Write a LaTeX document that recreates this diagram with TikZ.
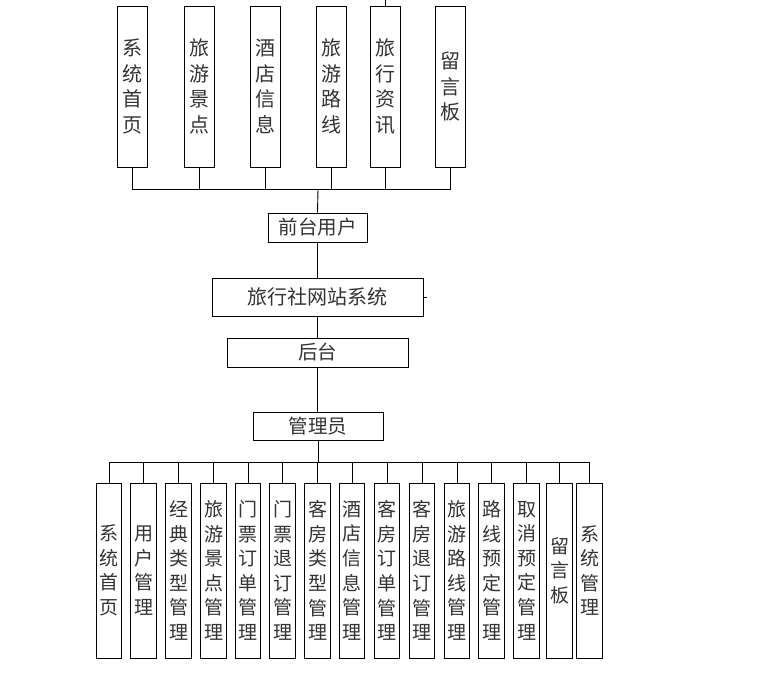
\documentclass[tikz,border=0pt]{standalone}
\usepackage{fontspec}
\setmainfont{Noto Sans CJK SC}
\usepackage{tikz}
\usetikzlibrary{positioning}

\begin{document}
\begin{tikzpicture}[
    x=1pt, y=-1pt,
    box/.style={rectangle, draw, line width=0.9pt, inner sep=0pt, text=black!80, align=center},
    bar/.style={box, minimum height=29pt, font=\fontsize{19.5}{22}\selectfont},
    menu/.style={box, minimum width=30pt, minimum height=161pt, font=\fontsize{20}{25.7}\selectfont},
    func/.style={box, minimum width=25.5pt, minimum height=175pt, font=\fontsize{19}{24.6}\selectfont},
    link/.style={draw, line width=0.9pt}
]
    \useasboundingbox (0,0) rectangle (765,673);

    % front side menus
    \node[menu] (home)   at (132,86.5) {系\\统\\首\\页};
    \node[menu] (scenic) at (199,86.5) {旅\\游\\景\\点};
    \node[menu] (hotel)  at (265,86.5) {酒\\店\\信\\息};
    \node[menu] (route)  at (331,86.5) {旅\\游\\路\\线};
    \node[menu] (news)   at (385,86.5) {旅\\行\\资\\讯};
    \node[menu] (board)  at (450,86.5) {留\\言\\板};

    % middle column
    \node[bar, minimum width=99pt] (front) at (317.5,227.5) {前台用户};
    \node[bar, minimum width=211pt, minimum height=38pt, font=\fontsize{20}{22}\selectfont] (system) at (317.5,297) {旅行社网站系统};
    \node[bar, minimum width=181pt] (back) at (317.5,352.5) {后台};
    \node[bar, minimum width=130pt, minimum height=28pt] (admin) at (318,426) {管理员};

    % admin functions
    \node[func] (f1)  at (109,570.5)   {系\\统\\首\\页};
    \node[func] (f2)  at (143.5,570.5) {用\\户\\管\\理};
    \node[func] (f3)  at (178.5,570.5) {经\\典\\类\\型\\管\\理};
    \node[func] (f4)  at (213.5,570.5) {旅\\游\\景\\点\\管\\理};
    \node[func] (f5)  at (248,570.5)   {门\\票\\订\\单\\管\\理};
    \node[func] (f6)  at (282.5,570.5) {门\\票\\退\\订\\管\\理};
    \node[func] (f7)  at (317.5,570.5) {客\\房\\类\\型\\管\\理};
    \node[func] (f8)  at (352,570.5)   {酒\\店\\信\\息\\管\\理};
    \node[func] (f9)  at (387,570.5)   {客\\房\\订\\单\\管\\理};
    \node[func] (f10) at (422,570.5)   {客\\房\\退\\订\\管\\理};
    \node[func] (f11) at (457,570.5)   {旅\\游\\路\\线\\管\\理};
    \node[func] (f12) at (491.5,570.5) {路\\线\\预\\定\\管\\理};
    \node[func] (f13) at (526.5,570.5) {取\\消\\预\\定\\管\\理};
    \node[func] (f14) at (559.5,570.5) {留\\言\\板};
    \node[func] (f15) at (589.5,570.5) {系\\统\\管\\理};

    \coordinate (topbus) at (318,189);
    \coordinate (botbus) at (318,462);
    \coordinate (topend) at (385,0);
    \coordinate (sysend) at (427,297);

    \draw[link] (home.south) |- (topbus);
    \draw[link] (scenic.south) |- (topbus);
    \draw[link] (hotel.south) |- (topbus);
    \draw[link] (route.south) |- (topbus);
    \draw[link] (news.south) |- (topbus);
    \draw[link] (board.south) |- (topbus);
    \draw[link] (news.north) -- (topend);

    \draw[link] (topbus) -- (front.north);
    \draw[link] (front.south) -- (front.south |- system.north);
    \draw[link] (system.east) -- (sysend);
    \draw[link] (system.south) -- (system.south |- back.north);
    \draw[link] (back.south) -- (back.south |- admin.north);
    \draw[link] (admin.south) -- (botbus);

    \draw[link] (botbus) -| (f1.north);
    \draw[link] (botbus) -| (f2.north);
    \draw[link] (botbus) -| (f3.north);
    \draw[link] (botbus) -| (f4.north);
    \draw[link] (botbus) -| (f5.north);
    \draw[link] (botbus) -| (f6.north);
    \draw[link] (botbus) -| (f7.north);
    \draw[link] (botbus) -| (f8.north);
    \draw[link] (botbus) -| (f9.north);
    \draw[link] (botbus) -| (f10.north);
    \draw[link] (botbus) -| (f11.north);
    \draw[link] (botbus) -| (f12.north);
    \draw[link] (botbus) -| (f13.north);
    \draw[link] (botbus) -| (f14.north);
    \draw[link] (botbus) -| (f15.north);
\end{tikzpicture}
\end{document}
